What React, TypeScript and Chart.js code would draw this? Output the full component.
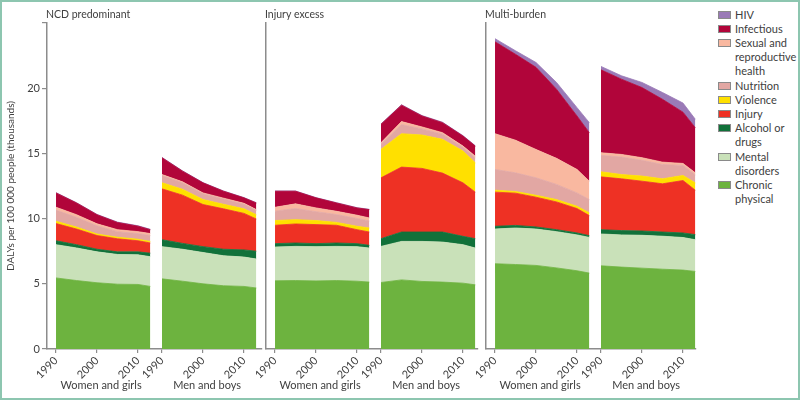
import React, { useEffect, useRef } from 'react';
import { Chart, registerables } from 'chart.js';

Chart.register(...registerables);

// ---------- data ----------
const YEARS = [1990, 1995, 2000, 2005, 2010, 2013];
const X_TICK_YEARS = [1990, 2000, 2010];
const Y_MAX = 25;
const Y_STEP = 5;

// stack order, bottom to top
const CATEGORIES = [
  'Chronic physical',
  'Mental disorders',
  'Alcohol or drugs',
  'Injury',
  'Violence',
  'Nutrition',
  'Sexual and reproductive health',
  'Infectious',
  'HIV',
];
const LEGEND_LINES = [
  ['Chronic', 'physical'],
  ['Mental', 'disorders'],
  ['Alcohol or', 'drugs'],
  ['Injury'],
  ['Violence'],
  ['Nutrition'],
  ['Sexual and', 'reproductive', 'health'],
  ['Infectious'],
  ['HIV'],
];
const COLORS = [
  '#6db33f',
  '#c9e1b9',
  '#11713a',
  '#ee3124',
  '#ffe000',
  '#e2a7a3',
  '#f9b8a0',
  '#b1053a',
  '#9a7ab7',
];

const PANEL_TITLES = ['NCD predominant', 'Injury excess', 'Multi-burden'];
const SEX_LABELS = ['Women and girls', 'Men and boys'];
const Y_TITLE = 'DALYs per 100 000 people (thousands)';

// rows follow CATEGORIES order; columns follow YEARS
const NCD_WOMEN = [
  [5.45, 5.25, 5.08, 4.97, 4.95, 4.8],
  [2.55, 2.5, 2.37, 2.28, 2.27, 2.28],
  [0.3, 0.25, 0.2, 0.2, 0.23, 0.27],
  [1.32, 1.2, 1.05, 1.0, 0.85, 0.78],
  [0.18, 0.15, 0.12, 0.12, 0.12, 0.12],
  [0.85, 0.75, 0.63, 0.43, 0.43, 0.45],
  [0.22, 0.2, 0.15, 0.15, 0.15, 0.15],
  [1.1, 0.9, 0.7, 0.55, 0.42, 0.3],
  [0.02, 0.02, 0.02, 0.03, 0.03, 0.03],
];
const NCD_MEN = [
  [5.38, 5.2, 5.0, 4.85, 4.8, 4.68],
  [2.47, 2.45, 2.4, 2.3, 2.25, 2.22],
  [0.53, 0.45, 0.45, 0.5, 0.55, 0.6],
  [3.9, 3.7, 3.23, 3.1, 2.8, 2.47],
  [0.47, 0.45, 0.38, 0.35, 0.35, 0.33],
  [0.55, 0.5, 0.44, 0.4, 0.35, 0.32],
  [0.08, 0.07, 0.07, 0.07, 0.07, 0.07],
  [1.29, 0.82, 0.77, 0.53, 0.42, 0.51],
  [0.02, 0.02, 0.02, 0.02, 0.02, 0.02],
];
const INJURY_WOMEN = [
  [5.23, 5.25, 5.22, 5.25, 5.2, 5.13],
  [2.59, 2.62, 2.63, 2.62, 2.65, 2.61],
  [0.26, 0.26, 0.23, 0.26, 0.23, 0.21],
  [1.41, 1.46, 1.46, 1.36, 1.07, 1.02],
  [0.36, 0.33, 0.31, 0.22, 0.26, 0.31],
  [0.72, 0.85, 0.68, 0.6, 0.6, 0.54],
  [0.3, 0.36, 0.29, 0.25, 0.25, 0.23],
  [1.23, 0.97, 0.77, 0.64, 0.56, 0.64],
  [0.02, 0.02, 0.02, 0.02, 0.02, 0.02],
];
const INJURY_MEN = [
  [5.1, 5.3, 5.18, 5.13, 5.05, 4.92],
  [2.77, 2.95, 3.07, 3.07, 2.95, 2.82],
  [0.59, 0.72, 0.72, 0.77, 0.64, 0.72],
  [4.67, 4.98, 4.88, 4.52, 4.1, 3.57],
  [2.18, 2.56, 2.56, 2.59, 2.44, 2.25],
  [0.4, 0.7, 0.47, 0.39, 0.29, 0.39],
  [0.11, 0.23, 0.15, 0.12, 0.09, 0.12],
  [1.41, 1.26, 0.84, 0.77, 0.77, 0.77],
  [0.03, 0.03, 0.03, 0.03, 0.03, 0.03],
];
const MULTI_WOMEN = [
  [6.54, 6.48, 6.41, 6.22, 6.0, 5.82],
  [2.66, 2.8, 2.79, 2.78, 2.75, 2.74],
  [0.21, 0.2, 0.16, 0.15, 0.15, 0.13],
  [2.62, 2.47, 2.28, 2.13, 1.87, 1.54],
  [0.15, 0.13, 0.15, 0.18, 0.18, 0.21],
  [1.59, 1.43, 1.34, 1.16, 1.02, 1.02],
  [2.74, 2.5, 2.17, 2.0, 1.8, 1.41],
  [7.05, 6.59, 6.3, 5.3, 4.1, 3.72],
  [0.24, 0.27, 0.37, 0.52, 0.64, 0.77],
];
const MULTI_MEN = [
  [6.38, 6.28, 6.2, 6.12, 6.05, 5.95],
  [2.44, 2.47, 2.52, 2.53, 2.5, 2.43],
  [0.33, 0.33, 0.33, 0.32, 0.35, 0.39],
  [4.05, 3.97, 3.82, 3.7, 4.02, 3.41],
  [0.39, 0.33, 0.39, 0.38, 0.39, 0.56],
  [1.26, 1.34, 1.21, 1.1, 0.77, 0.62],
  [0.2, 0.2, 0.2, 0.18, 0.15, 0.15],
  [6.36, 5.77, 5.38, 4.82, 3.93, 3.46],
  [0.26, 0.26, 0.39, 0.52, 0.7, 0.65],
];

const PANEL_DATA = [
  [NCD_WOMEN, NCD_MEN],
  [INJURY_WOMEN, INJURY_MEN],
  [MULTI_WOMEN, MULTI_MEN],
];

// ---------- layout / style ----------
const FONT = 'Lato, "Open Sans", sans-serif';
const TEXT = '#404040';
const AXIS = '#8c8c8c';
const FRAME = '#8dc6b0';
const MEN_OFFSET = 25.85; // shift (in years) of the men sub-panel along the shared x scale
const X_MIN = 1987.8;
const PX_PER_YEAR = 4.1;
const PLOT_TOP = 23;
const X_AXIS_HEIGHT = 51;
const PANEL_LAYOUT = [
  { left: 0, yWidth: 47, plotWidth: 215 },
  { left: 250, yWidth: 16, plotWidth: 212 },
  { left: 470, yWidth: 16, plotWidth: 210 },
];

const panelTextPlugin = {
  id: 'panelText',
  afterDraw(chart: any, _args: any, opts: any) {
    const { ctx, chartArea, scales } = chart;
    ctx.save();
    ctx.font = `10.5px ${FONT}`;
    ctx.fillStyle = TEXT;
    ctx.textBaseline = 'middle';
    ctx.textAlign = 'left';
    ctx.fillText(opts.title, chartArea.left - 1, 15);
    ctx.font = `11px ${FONT}`;
    ctx.textAlign = 'center';
    const mid = (YEARS[0] + YEARS[YEARS.length - 1]) / 2 - 0.5;
    SEX_LABELS.forEach((t, s) => {
      ctx.fillText(t, scales.x.getPixelForValue(mid + s * MEN_OFFSET), 385);
    });
    ctx.restore();
  },
};

function Panel({ index }: { index: number }) {
  const ref = useRef<HTMLCanvasElement>(null);
  const lay = PANEL_LAYOUT[index];
  const showY = index === 0;
  const canvasWidth = lay.yWidth + lay.plotWidth + 2;

  useEffect(() => {
    if (!ref.current) return;
    const datasets: any[] = [];
    PANEL_DATA[index].forEach((rows, s) => {
      rows.forEach((vals, c) => {
        datasets.push({
          label: CATEGORIES[c],
          data: YEARS.map((yr, i) => ({ x: yr + s * MEN_OFFSET, y: vals[i] })),
          backgroundColor: COLORS[c],
          borderColor: COLORS[c],
          borderWidth: 0.8,
          pointRadius: 0,
          tension: 0,
          fill: c === 0 ? 'origin' : '-1',
          stack: s === 0 ? 'women' : 'men',
        });
      });
    });
    const tickValues: number[] = [];
    [0, 1].forEach((s) => X_TICK_YEARS.forEach((y) => tickValues.push(y + s * MEN_OFFSET)));

    const chart = new Chart(ref.current, {
      type: 'line',
      data: { datasets },
      plugins: [panelTextPlugin],
      options: {
        animation: false,
        responsive: true,
        maintainAspectRatio: false,
        layout: { padding: { top: PLOT_TOP, right: 2, left: 0, bottom: 0 } },
        plugins: {
          legend: { display: false },
          tooltip: { enabled: false },
          panelText: { title: PANEL_TITLES[index] },
        } as any,
        scales: {
          x: {
            type: 'linear',
            min: X_MIN,
            max: X_MIN + lay.plotWidth / PX_PER_YEAR,
            afterFit: (sc: any) => {
              sc.height = X_AXIS_HEIGHT;
            },
            afterBuildTicks: (sc: any) => {
              sc.ticks = tickValues.map((v) => ({ value: v }));
            },
            ticks: {
              autoSkip: false,
              minRotation: 45,
              maxRotation: 45,
              padding: 1,
              color: TEXT,
              font: { family: FONT, size: 11 },
              callback: (v: any) => String(Math.round(v > YEARS[YEARS.length - 1] + 1 ? v - MEN_OFFSET : v)),
            },
            grid: { display: true, drawOnChartArea: false, drawTicks: true, tickLength: 4, color: AXIS, lineWidth: 1.2 },
            border: { display: true, color: AXIS, width: 1.5 },
          },
          y: {
            stacked: true,
            min: 0,
            max: Y_MAX,
            afterFit: (sc: any) => {
              sc.width = lay.yWidth;
            },
            ticks: {
              display: showY,
              stepSize: Y_STEP,
              padding: 2,
              color: TEXT,
              font: { family: FONT, size: 11 },
              callback: (v: any) => (v === Y_MAX ? '' : String(v)),
            },
            grid: { display: showY, drawOnChartArea: false, drawTicks: true, tickLength: 5, color: AXIS, lineWidth: 1.2 },
            border: { display: true, color: AXIS, width: 1.5 },
            title: {
              display: showY,
              text: Y_TITLE,
              color: TEXT,
              font: { family: FONT, size: 10 },
              padding: { top: 5, bottom: 0 },
            },
          },
        },
      } as any,
    });
    return () => chart.destroy();
  }, [index]);

  return (
    <div style={{ position: 'absolute', left: lay.left, top: 0, width: canvasWidth, height: 400 }}>
      <canvas ref={ref} />
    </div>
  );
}

function Legend() {
  const order = CATEGORIES.map((_, i) => i).reverse();
  return (
    <div style={{ position: 'absolute', left: 718, top: 7.5, fontFamily: FONT, fontSize: 11, color: TEXT }}>
      {order.map((c) => (
        <div key={c} style={{ display: 'flex', alignItems: 'flex-start' }}>
          <div
            style={{
              width: 13,
              height: 8,
              marginTop: 3,
              boxSizing: 'border-box',
              border: '1px solid #8a8a8a',
              background: COLORS[c],
              flex: 'none',
            }}
          />
          <div style={{ marginLeft: 4, lineHeight: '14.2px', whiteSpace: 'nowrap' }}>
            {LEGEND_LINES[c].map((l, i) => (
              <div key={i}>{l}</div>
            ))}
          </div>
        </div>
      ))}
    </div>
  );
}

export default function App() {
  return (
    <div style={{ position: 'absolute', left: 0, top: 0, width: 800, height: 400, background: '#fff', overflow: 'hidden' }}>
      {PANEL_TITLES.map((_, i) => (
        <Panel key={i} index={i} />
      ))}
      <Legend />
      <div
        style={{
          position: 'absolute',
          left: 0,
          top: 0,
          width: 800,
          height: 400,
          boxSizing: 'border-box',
          border: `2px solid ${FRAME}`,
          pointerEvents: 'none',
        }}
      />
    </div>
  );
}
